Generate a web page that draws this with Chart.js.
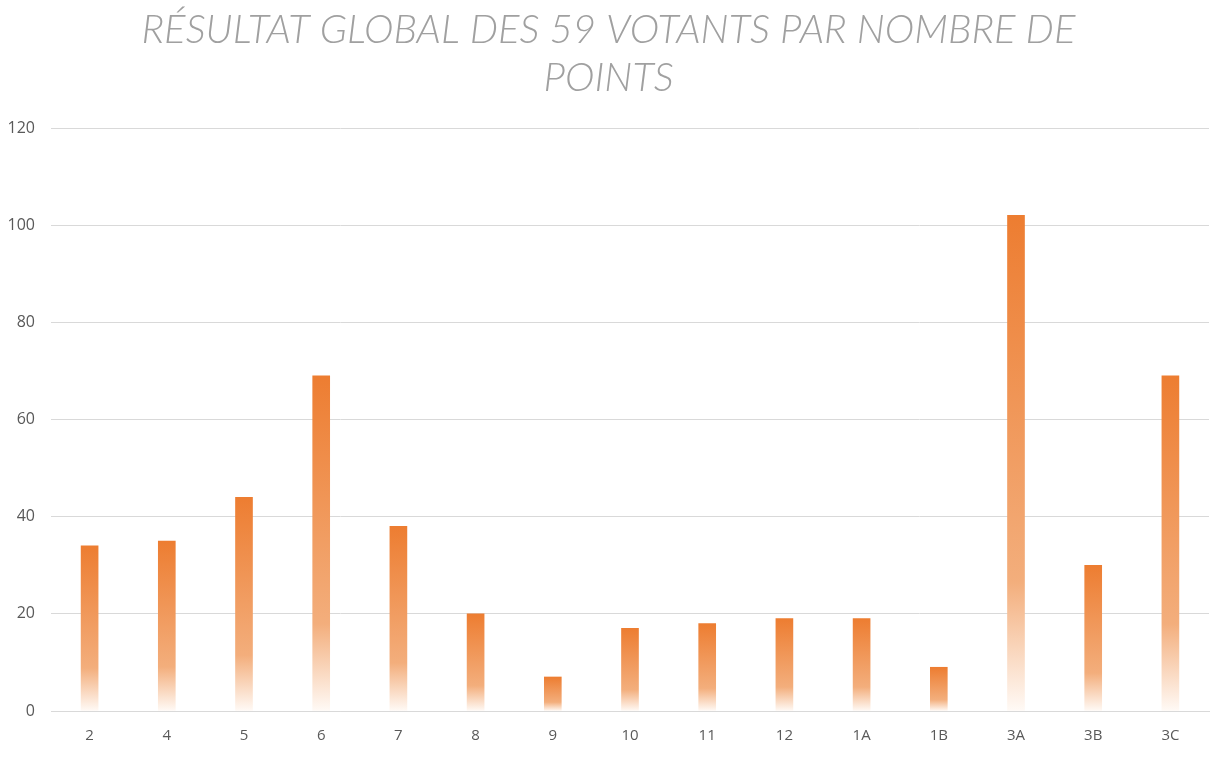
<!DOCTYPE html>
<html>
<head>
<meta charset="utf-8">
<script src="https://cdn.jsdelivr.net/npm/chart.js@4/dist/chart.umd.min.js"></script>
<style>
  html, body { margin: 0; padding: 0; background: #fff; }
  #wrap { width: 1224px; height: 758px; }
</style>
</head>
<body>
<div id="wrap"><canvas id="pointsChart"></canvas></div>
<script>
var categories = ['2', '4', '5', '6', '7', '8', '9', '10', '11', '12', '1A', '1B', '3A', '3B', '3C'];
var points = [34, 35, 44, 69, 38, 20, 7, 17, 18, 19, 19, 9, 102, 30, 69];
var yTicks = [0, 20, 40, 60, 80, 100, 120];
var titleLines = ['RÉSULTAT GLOBAL DES 59 VOTANTS PAR NOMBRE DE', 'POINTS'];

// each bar fades from orange at the top to white at the baseline
function barFill(context) {
    var chart = context.chart;
    if (!chart.chartArea || context.type !== 'data') return '#ED7D31';
    var y = chart.scales.y;
    var top = y.getPixelForValue(context.raw);
    var base = y.getPixelForValue(0);
    var g = chart.ctx.createLinearGradient(0, top, 0, base);
    g.addColorStop(0, '#ED7D31');
    g.addColorStop(0.74, '#F3AE7C');
    g.addColorStop(1, '#FFFAF6');
    return g;
}

new Chart(document.getElementById('pointsChart').getContext('2d'), {
    type: 'bar',
    data: {
        labels: categories,
        datasets: [{
            label: 'Points',
            data: points,
            backgroundColor: barFill,
            borderWidth: 0,
            barThickness: 17
        }]
    },
    options: {
        responsive: true,
        maintainAspectRatio: false,
        animation: false,
        layout: { padding: { left: 8, right: 15, top: 6, bottom: 12 } },
        plugins: {
            legend: { display: false },
            tooltip: { enabled: false },
            title: {
                display: true,
                text: titleLines,
                color: '#A0A0A0',
                font: { family: '"Lato Light", Lato', size: 40, weight: 300, style: 'italic', lineHeight: 1.2 },
                padding: { top: 0, bottom: 26 }
            }
        },
        scales: {
            x: {
                grid: { display: false, drawTicks: false },
                border: { color: '#D9D9D9', width: 1 },
                ticks: { color: '#595959', padding: 16, font: { family: 'Open Sans', size: 15 } },
                afterFit: function (axis) { axis.height = 35; }
            },
            y: {
                min: 0,
                max: 120,
                afterBuildTicks: function (axis) {
                    axis.ticks = yTicks.map(function (v) { return { value: v }; });
                },
                grid: { color: '#D9D9D9', drawTicks: false },
                border: { display: false },
                ticks: { color: '#595959', padding: 16, font: { family: 'Open Sans', size: 16 } },
                afterFit: function (axis) { axis.width = 43; }
            }
        }
    }
});
</script>
</body>
</html>
